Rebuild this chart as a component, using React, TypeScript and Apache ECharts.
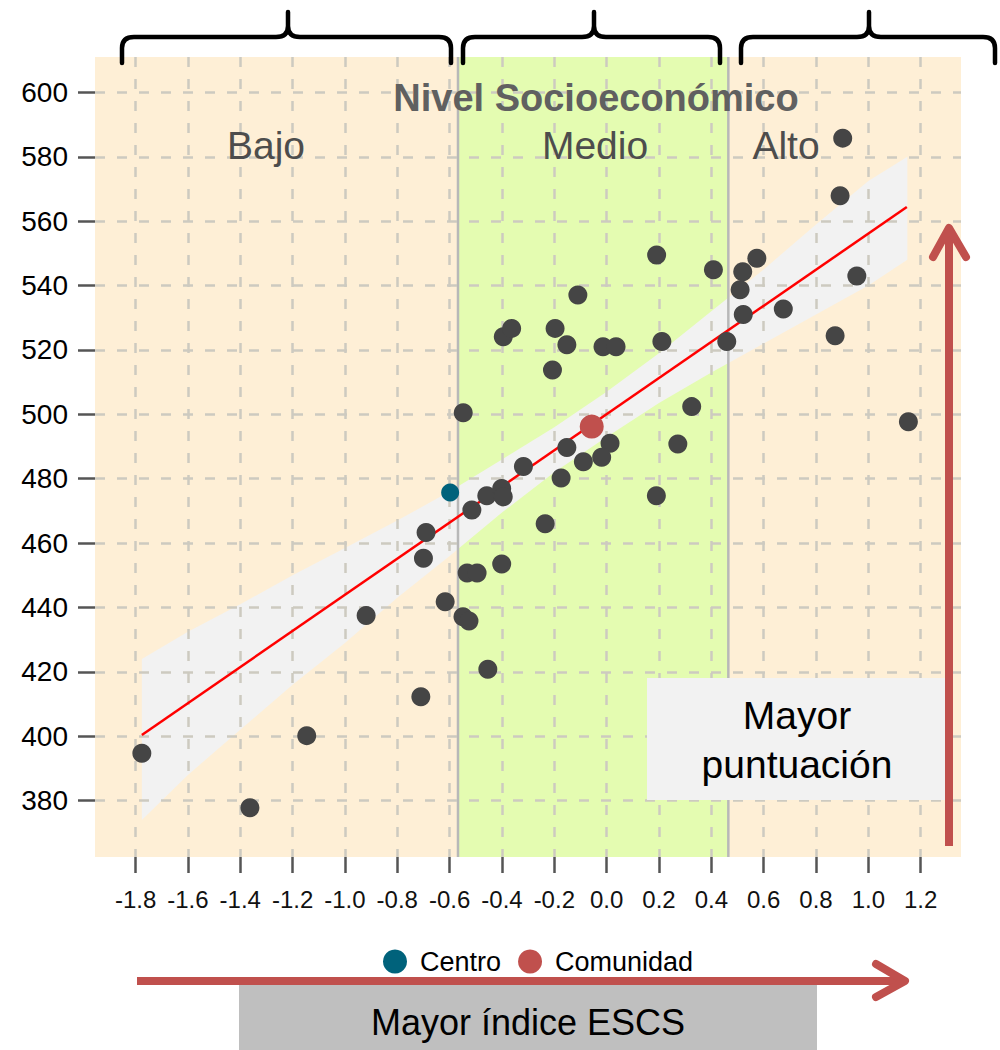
import React, { useEffect, useRef } from "react";
import * as echarts from "echarts";

// ---------- data ----------
const xTicks = [-1.8, -1.6, -1.4, -1.2, -1.0, -0.8, -0.6, -0.4, -0.2, 0.0, 0.2, 0.4, 0.6, 0.8, 1.0, 1.2];
const yTicks = [380, 400, 420, 440, 460, 480, 500, 520, 540, 560, 580, 600];
const xRange = [-1.955, 1.354];
const yRange = [362.5, 611];

const zoneNames = ["Bajo", "Medio", "Alto"];
const zoneStarts = [-1.955, -0.568, 0.465];
const zoneEnds = [-0.568, 0.465, 1.354];
const boundaries = [-0.568, 0.465];

const schoolX = [
  -1.776, -1.363, -1.146, -0.919, -0.71, -0.69, -0.7, -0.617, -0.548, -0.549,
  -0.526, -0.454, -0.533, -0.495, -0.401, -0.515, -0.458, -0.401, -0.395, -0.318,
  -0.395, -0.363, -0.197, -0.152, -0.207, -0.11, -0.014, 0.036, 0.191, 0.211,
  0.408, 0.51, 0.52, 0.574, 0.522, 0.459, 0.675, 0.325, 0.272, 0.19,
  0.013, -0.019, -0.089, -0.152, -0.174, -0.235, 0.902, 0.892, 0.956, 0.873,
  1.153,
];
const schoolY = [
  394.7, 377.8, 400.2, 437.5, 412.3, 463.3, 455.3, 441.8, 500.5, 437.1,
  435.8, 420.8, 450.7, 450.7, 453.5, 470.3, 474.7, 477.0, 474.4, 483.8,
  524.1, 526.7, 526.7, 521.6, 513.8, 537.1, 521.0, 521.0, 549.5, 522.6,
  544.9, 538.7, 544.3, 548.5, 531.0, 522.6, 532.7, 502.4, 490.8, 474.7,
  491.0, 486.7, 485.3, 489.7, 480.2, 466.0, 585.8, 567.9, 543.0, 524.4,
  497.7,
];
const centroX = [-0.598];
const centroY = [475.7];
const comunidadX = [-0.057];
const comunidadY = [496.2];

const fitX = [-1.776, 1.147];
const fitY = [400.4, 564.4];

const bandX = [-1.776, -1.6, -1.4, -1.2, -1.0, -0.8, -0.6, -0.4, -0.2, 0.0, 0.2, 0.4, 0.6, 0.8, 1.0, 1.149];
const bandUpper = [424, 432.5, 441, 450, 458.5, 467, 476, 486, 496, 507, 519, 532, 545, 559, 572.5, 580];
const bandLower = [374, 388, 402, 416, 429, 443, 456, 469.5, 482, 493, 503.5, 513, 522, 531, 540, 548];

// ---------- styles ----------
const FONT = "Liberation Sans, Arial, sans-serif";
const PEACH = "#FEEFD6";
const GREEN = "#E4FCB1";
const zoneColors = [PEACH, GREEN, PEACH];
const ARROW = "#C0504D";

// curly braces above the panel
const braceSpecs = [
  [122, 288, 451],
  [463, 594, 720],
  [741, 869, 995],
];
function bracePath(x1: number, xm: number, x2: number) {
  const yt = 12, ym = 37, yb = 63, r = 12;
  return (
    `M${x1} ${yb} L${x1} ${ym + 11} Q${x1} ${ym} ${x1 + r} ${ym} L${xm - r} ${ym} Q${xm} ${ym} ${xm} ${ym - 11} L${xm} ${yt} ` +
    `M${xm} ${ym - 11} Q${xm} ${ym} ${xm + r} ${ym} L${x2 - r} ${ym} Q${x2} ${ym} ${x2} ${ym + 11} L${x2} ${yb} `
  );
}
const braceD = braceSpecs.map((b) => bracePath(b[0], b[1], b[2])).join(" ");
echarts.graphic.registerShape("braces", echarts.graphic.extendPath(braceD, {}) as any);

export default function App() {
  const ref = useRef<HTMLDivElement>(null);

  useEffect(() => {
    if (!ref.current) return;
    const chart = echarts.init(ref.current, null, { renderer: "svg" });

    const option: any = {
      animation: false,
      backgroundColor: "#ffffff",
      grid: { left: 95, right: 39, top: 57, bottom: 193, show: false },
      xAxis: {
        type: "value",
        min: xRange[0],
        max: xRange[1],
        position: "bottom",
        axisLine: { show: false, onZero: false },
        axisTick: {
          show: true,
          length: 16,
          lineStyle: { color: "#555555", width: 2.5 },
          customValues: xTicks,
        },
        axisLabel: {
          customValues: xTicks,
          formatter: (v: number) => v.toFixed(1),
          fontSize: 24,
          fontFamily: FONT,
          color: "#111111",
          margin: 30,
        },
        splitLine: {
          show: true,
          lineStyle: { color: "#CDCAC0", width: 2.5, type: [10, 12] },
        },
      },
      yAxis: {
        type: "value",
        min: yRange[0],
        max: yRange[1],
        position: "left",
        axisLine: { show: false, onZero: false },
        axisTick: {
          show: true,
          length: 17,
          lineStyle: { color: "#555555", width: 2.5 },
          customValues: yTicks,
        },
        axisLabel: {
          customValues: yTicks,
          formatter: (v: number) => String(Math.round(v)),
          fontSize: 28,
          fontFamily: FONT,
          color: "#000000",
          margin: 27,
        },
        splitLine: {
          show: true,
          lineStyle: { color: "#CDCAC0", width: 2.5, type: [10, 12] },
        },
      },
      legend: {
        data: [
          { name: "Centro", icon: "circle" },
          { name: "Comunidad", icon: "circle" },
        ],
        left: 378,
        top: 943,
        itemWidth: 24,
        itemHeight: 24,
        itemGap: 17,
        textStyle: { fontSize: 27, fontFamily: FONT, color: "#000", padding: [0, 0, 0, 8] },
      },
      series: [
        {
          name: "zones",
          type: "custom",
          z: -3,
          silent: true,
          data: zoneStarts.map((s, i) => [s, zoneEnds[i], i]),
          dimensions: ["start", "end", "idx"],
          encode: { x: [0, 1] },
          renderItem: (params: any, api: any) => {
            const s = api.value(0);
            const e = api.value(1);
            const i = api.value(2);
            const p0 = api.coord([s, yRange[1]]);
            const p1 = api.coord([e, yRange[0]]);
            return {
              type: "rect",
              shape: { x: p0[0], y: p0[1], width: p1[0] - p0[0], height: p1[1] - p0[1] },
              style: { fill: zoneColors[i] },
            };
          },
        },
        {
          name: "band",
          type: "custom",
          z: -2,
          silent: true,
          data: bandX.map((x, i) => [x, bandLower[i], bandUpper[i]]),
          encode: { x: 0, y: [1, 2] },
          renderItem: (params: any, api: any) => {
            if (params.dataIndex !== 0) return null;
            const pts: number[][] = [];
            for (let i = 0; i < bandX.length; i++) pts.push(api.coord([bandX[i], bandUpper[i]]));
            for (let i = bandX.length - 1; i >= 0; i--) pts.push(api.coord([bandX[i], bandLower[i]]));
            return { type: "polygon", shape: { points: pts }, style: { fill: "#F2F2F2" } };
          },
        },
        {
          name: "boundaries",
          type: "custom",
          z: -1,
          silent: true,
          data: boundaries.map((b) => [b]),
          encode: { x: 0 },
          renderItem: (params: any, api: any) => {
            const b = api.value(0);
            const p0 = api.coord([b, yRange[1]]);
            const p1 = api.coord([b, yRange[0]]);
            return {
              type: "line",
              shape: { x1: p0[0], y1: p0[1], x2: p1[0], y2: p1[1] },
              style: { stroke: "#B8B8B8", lineWidth: 2.5 },
            };
          },
        },
        {
          name: "fit",
          type: "line",
          z: 2,
          silent: true,
          symbol: "none",
          data: fitX.map((x, i) => [x, fitY[i]]),
          lineStyle: { color: "#FF0000", width: 2.5 },
        },
        {
          name: "Escuelas",
          type: "scatter",
          z: 3,
          symbol: "circle",
          symbolSize: 19,
          data: schoolX.map((x, i) => [x, schoolY[i]]),
          itemStyle: { color: "#454545", opacity: 1 },
        },
        {
          name: "Centro",
          type: "scatter",
          z: 4,
          symbol: "circle",
          symbolSize: 18,
          data: centroX.map((x, i) => [x, centroY[i]]),
          itemStyle: { color: "#00627B", opacity: 1 },
        },
        {
          name: "Comunidad",
          type: "scatter",
          z: 4,
          symbol: "circle",
          symbolSize: 24,
          data: comunidadX.map((x, i) => [x, comunidadY[i]]),
          itemStyle: { color: "#C0504D", opacity: 1 },
        },
      ],
      graphic: [
        {
          type: "braces",
          x: 0,
          y: 0,
          z: 100,
          style: { stroke: "#000000", lineWidth: 4.5, fill: "none", lineCap: "round", lineJoin: "round" },
        },
        {
          type: "text",
          z: 100,
          x: 596,
          y: 98,
          style: {
            text: "Nivel Socioeconómico",
            fontSize: 38,
            fontWeight: "bold",
            fontFamily: FONT,
            fill: "#606060",
            align: "center",
            verticalAlign: "middle",
          },
        },
        {
          type: "text",
          z: 100,
          x: 266,
          y: 145,
          style: { text: zoneNames[0], fontSize: 39, fontFamily: FONT, fill: "#4D4D4D", align: "center", verticalAlign: "middle" },
        },
        {
          type: "text",
          z: 100,
          x: 595,
          y: 145,
          style: { text: zoneNames[1], fontSize: 39, fontFamily: FONT, fill: "#4D4D4D", align: "center", verticalAlign: "middle" },
        },
        {
          type: "text",
          z: 100,
          x: 786,
          y: 145,
          style: { text: zoneNames[2], fontSize: 39, fontFamily: FONT, fill: "#4D4D4D", align: "center", verticalAlign: "middle" },
        },
        // right annotation box
        {
          type: "rect",
          z: 100,
          shape: { x: 647, y: 678, width: 298, height: 122 },
          style: { fill: "#F2F2F2" },
        },
        {
          type: "text",
          z: 101,
          x: 797,
          y: 740,
          style: {
            text: "Mayor\npuntuación",
            fontSize: 39,
            lineHeight: 49,
            fontFamily: FONT,
            fill: "#000000",
            align: "center",
            verticalAlign: "middle",
          },
        },
        // vertical arrow
        {
          type: "line",
          z: 102,
          shape: { x1: 949, y1: 846, x2: 949, y2: 232 },
          style: { stroke: ARROW, lineWidth: 8 },
        },
        {
          type: "polyline",
          z: 102,
          shape: { points: [[933, 257], [949, 228], [966, 257]] },
          style: { stroke: ARROW, lineWidth: 8, fill: "none", lineCap: "round", lineJoin: "round" },
        },
        // bottom box
        {
          type: "rect",
          z: 100,
          shape: { x: 239, y: 985, width: 578, height: 65 },
          style: { fill: "#BFBFBF" },
        },
        {
          type: "text",
          z: 101,
          x: 528,
          y: 1022,
          style: {
            text: "Mayor índice ESCS",
            fontSize: 36,
            fontFamily: FONT,
            fill: "#000000",
            align: "center",
            verticalAlign: "middle",
          },
        },
        // horizontal arrow
        {
          type: "line",
          z: 102,
          shape: { x1: 137, y1: 981, x2: 902, y2: 981 },
          style: { stroke: ARROW, lineWidth: 8 },
        },
        {
          type: "polyline",
          z: 102,
          shape: { points: [[876, 964], [905, 981], [876, 997]] },
          style: { stroke: ARROW, lineWidth: 8, fill: "none", lineCap: "round", lineJoin: "round" },
        },
      ],
    };

    chart.setOption(option);
    return () => {
      chart.dispose();
    };
  }, []);

  return (
    <div
      ref={ref}
      style={{ position: "absolute", left: 0, top: 0, width: 1000, height: 1050 }}
    />
  );
}
